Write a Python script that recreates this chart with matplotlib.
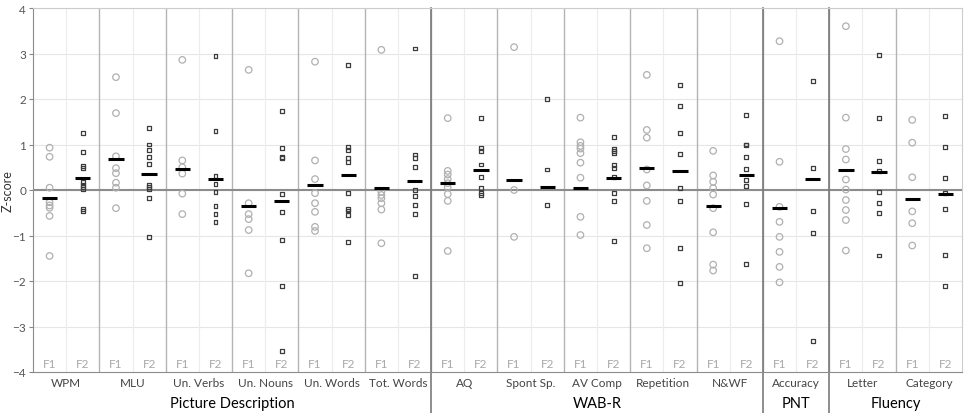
import matplotlib.pyplot as plt
from matplotlib.transforms import blended_transform_factory

plt.rcParams['font.family'] = ['Lato', 'DejaVu Sans']

categories = ['WPM', 'MLU', 'Un. Verbs', 'Un. Nouns', 'Un. Words', 'Tot. Words',
              'AQ', 'Spont Sp.', 'AV Comp', 'Repetition', 'N&WF',
              'Accuracy', 'Letter', 'Category']
groups = ['Picture Description', 'WAB-R', 'PNT', 'Fluency']
group_sizes = [6, 5, 1, 2]

f1_points = [
    [0.93, 0.73, 0.05, -0.27, -0.34, -0.39, -0.57, -1.45],
    [2.48, 1.69, 0.74, 0.48, 0.37, 0.16, 0.05, -0.40],
    [2.86, 0.65, 0.50, 0.36, -0.08, -0.53],
    [2.64, -0.29, -0.53, -0.64, -0.88, -1.83],
    [2.82, 0.65, 0.24, -0.07, -0.29, -0.48, -0.81, -0.90],
    [3.08, -0.04, -0.11, -0.18, -0.29, -0.43, -1.17],
    [1.58, 0.42, 0.34, 0.24, 0.15, 0.06, -0.09, -0.24, -1.34],
    [3.14, 0.00, -1.03],
    [1.59, 1.05, 0.97, 0.91, 0.81, 0.60, 0.27, -0.59, -0.99],
    [2.53, 1.32, 1.15, 0.45, 0.10, -0.24, -0.77, -1.28],
    [0.86, 0.32, 0.18, 0.04, -0.10, -0.40, -0.93, -1.64, -1.77],
    [3.27, 0.62, -0.37, -0.70, -1.03, -1.36, -1.69, -2.03],
    [3.60, 1.59, 0.90, 0.67, 0.23, 0.01, -0.22, -0.44, -0.66, -1.33],
    [1.54, 1.04, 0.28, -0.47, -0.73, -1.22],
]
f2_points = [
    [1.25, 0.83, 0.52, 0.49, 0.18, 0.12, 0.06, 0.02, -0.41, -0.47],
    [1.36, 1.00, 0.88, 0.72, 0.58, 0.10, 0.07, 0.02, -0.17, -1.04],
    [2.94, 1.29, 0.30, 0.13, -0.04, -0.36, -0.53, -0.70],
    [1.74, 0.92, 0.73, 0.71, -0.08, -0.49, -1.09, -2.12, -3.53],
    [2.75, 0.94, 0.88, 0.70, 0.62, -0.07, -0.42, -0.45, -0.54, -1.14],
    [3.11, 0.78, 0.70, 0.51, 0.01, -0.13, -0.33, -0.53, -1.88],
    [1.59, 0.92, 0.86, 0.56, 0.29, 0.04, -0.07, -0.11],
    [2.01, 0.45, -0.32],
    [1.17, 0.90, 0.86, 0.81, 0.55, 0.49, 0.29, -0.07, -0.24, -1.13],
    [2.31, 1.85, 1.26, 0.80, 0.05, -0.24, -1.28, -2.05],
    [1.65, 1.00, 0.98, 0.73, 0.47, 0.21, 0.09, -0.31, -1.62],
    [2.39, 0.48, -0.46, -0.95, -3.31],
    [2.96, 1.58, 0.64, 0.42, -0.04, -0.28, -0.51, -1.44],
    [1.62, 0.94, 0.26, -0.07, -0.42, -1.43, -2.11],
]
f1_means = [-0.18, 0.69, 0.46, -0.35, 0.10, 0.04, 0.15, 0.21, 0.05, 0.49, -0.35, -0.40, 0.43, -0.20]
f2_means = [0.26, 0.35, 0.24, -0.25, 0.33, 0.19, 0.45, 0.06, 0.26, 0.42, 0.33, 0.24, 0.39, -0.08]

fig = plt.figure(figsize=(9.67, 4.14), dpi=100)
ax = fig.add_axes([33 / 967, 41 / 414, 929 / 967, 364 / 414])
n = len(categories)
ax.set_xlim(-0.5, 2 * n - 0.5)
ax.set_ylim(-4, 4)

# grid
for y in range(-3, 4):
    ax.axhline(y, color='#e6e6e6', lw=0.8, zorder=0)
for i in range(n):
    ax.axvline(2 * i + 0.5, color='#ececec', lw=0.8, zorder=0)
for i in range(1, n):
    ax.axvline(2 * i - 0.5, color='#b4b4b4', lw=1.0, zorder=1)
ax.axhline(0, color='#8c8c8c', lw=1.5, zorder=1)

# group dividers going down past the axis
trans = blended_transform_factory(ax.transData, ax.transAxes)
edge = 0
for size in group_sizes[:-1]:
    edge += size
    ax.plot([2 * edge - 0.5] * 2, [-0.115, 1], transform=trans, color='#7a7a7a',
            lw=1.2, clip_on=False, zorder=2)

for i in range(n):
    x1, x2 = 2 * i, 2 * i + 1
    ax.scatter([x1] * len(f1_points[i]), f1_points[i], s=22, marker='o',
               facecolors='none', edgecolors='#b0b0b0', linewidths=0.9, zorder=3)
    ax.scatter([x2] * len(f2_points[i]), f2_points[i], s=8, marker='s',
               facecolors='none', edgecolors='#3c3c3c', linewidths=0.9, zorder=3)
    ax.hlines(f1_means[i], x1 - 0.23, x1 + 0.23, color='black', lw=2.2, zorder=4)
    ax.hlines(f2_means[i], x2 - 0.23, x2 + 0.23, color='black', lw=2.2, zorder=4)
    ax.text(x1, -3.82, 'F1', ha='center', va='center', fontsize=8.5, color='#a8a8a8')
    ax.text(x2, -3.82, 'F2', ha='center', va='center', fontsize=8.5, color='#a8a8a8')
    ax.text(2 * i + 0.5, -0.028, categories[i], transform=trans, ha='center',
            va='center', fontsize=8.5, color='#444444')

start = 0
for g, size in zip(groups, group_sizes):
    center = start * 2 - 0.5 + size
    ax.text(center, -0.085, g, transform=trans, ha='center', va='center',
            fontsize=10.5, color='black')
    start += size

ax.set_xticks([])
ax.set_yticks(range(-4, 5))
ax.tick_params(axis='y', labelsize=8.5, labelcolor='#555555', color='#888888',
               length=3, pad=2)
ax.set_ylabel('Z-score', fontsize=9, color='#333333')
ax.yaxis.set_label_coords(-0.021, 0.5)
for side in ['left', 'bottom']:
    ax.spines[side].set_color('#8c8c8c')
for side in ['top', 'right']:
    ax.spines[side].set_color('#cccccc')
    ax.spines[side].set_linewidth(0.8)

fig.savefig('out.png', dpi=100)
